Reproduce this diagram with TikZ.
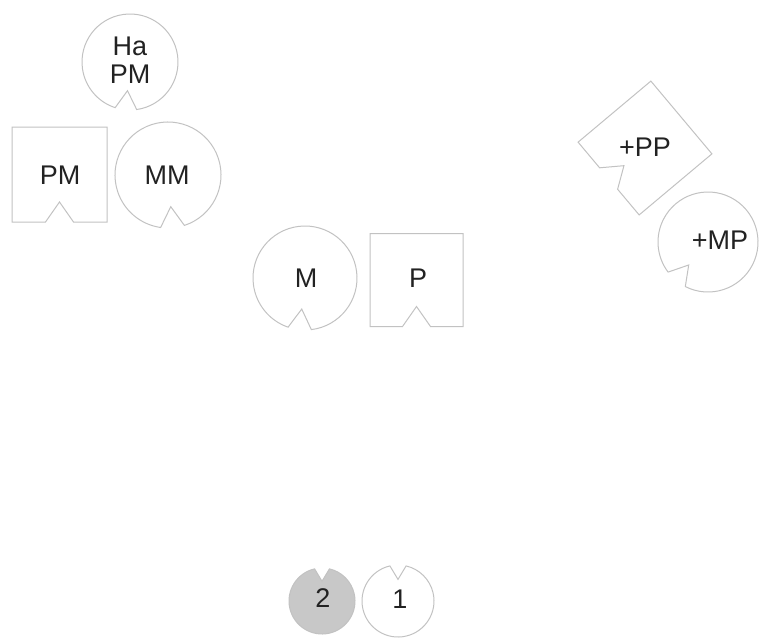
\documentclass[tikz,border=0pt]{standalone}
\usepackage{fontspec}
\setmainfont{Liberation Sans}
\definecolor{PUZline}{HTML}{C2C2C2}
\definecolor{PUZink}{HTML}{222222}
\definecolor{PUZfill}{HTML}{C8C8C8}

\begin{document}
\begin{tikzpicture}[
      x=1pt, y=1pt,
      outline/.style={draw=PUZline, line width=1pt, line join=miter},
      lbl/.style={font=\fontsize{27}{28}\selectfont, text=PUZink, align=center, inner sep=0pt},
      pics/disc/.style={code={\draw[outline, pic actions] (-77:#1) arc[start angle=-77, end angle=257, radius=#1] -- (-90:0.6*#1) -- cycle;}},
      pics/tile/.style={code={\draw[outline, pic actions] (-#1/2,-#1/2) -- (-14,-#1/2) -- (0,-#1/2+20) -- (14,-#1/2) -- (#1/2,-#1/2) -- (#1/2,#1/2) -- (-#1/2,#1/2) -- cycle;}}
   ]
   \useasboundingbox (0,0) rectangle (759,-637);

   \pic[rotate=-5] at (130,-62) {disc=48};
   \pic at (59.5,-174.5) {tile=95};
   \pic[rotate=5] at (168,-175) {disc=53};
   \pic[rotate=-6] at (305,-278) {disc=52};
   \pic at (416.5,-280) {tile=93};
   \pic[rotate=-50] at (645,-148) {tile=95};
   \pic[rotate=-40] at (708,-242) {disc=50};
   \pic[rotate=180, fill=PUZfill] at (322,-601) {disc=33};
   \pic[rotate=180] at (398,-601) {disc=36};

   \node[lbl] (hapm) at (130,-60) {Ha\\PM};
   \node[lbl] (pm) at (60,-175) {PM};
   \node[lbl] (mm) at (167,-175) {MM};
   \node[lbl] (m) at (306,-278) {M};
   \node[lbl] (p) at (418,-278) {P};
   \node[lbl] (pp) at (645,-147) {+PP};
   \node[lbl] (mp) at (720,-240) {+MP};
   \node[lbl] (two) at (323,-598) {2};
   \node[lbl] (one) at (400,-599) {1};
\end{tikzpicture}
\end{document}
